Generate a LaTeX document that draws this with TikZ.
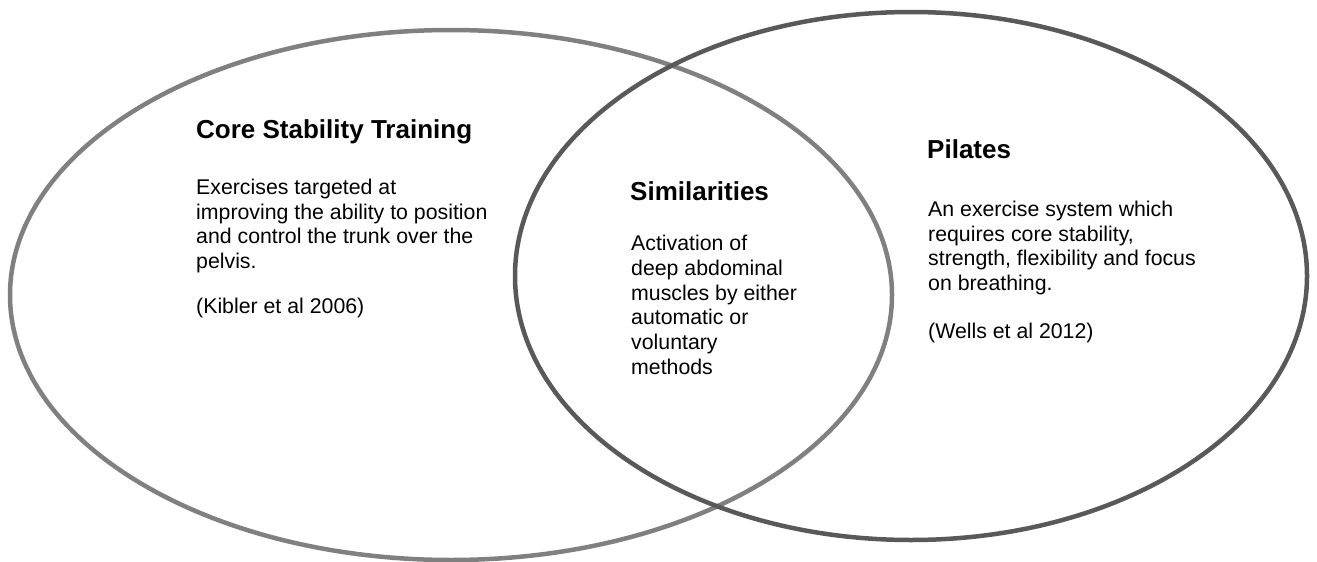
\documentclass[tikz,border=0pt]{standalone}
\usepackage{fontspec}
\setmainfont{Liberation Sans}
\usetikzlibrary{positioning}
\definecolor{ringlight}{HTML}{808080}
\definecolor{ringdark}{HTML}{595959}
\tikzset{
	ring/.style={line width=4.5pt},
	heading/.style={anchor=north west, inner sep=0pt, font=\fontsize{26}{30}\selectfont\bfseries},
	bodytext/.style={anchor=north west, inner sep=0pt, align=left, font=\fontsize{21.3}{24.7}\selectfont},
}

\begin{document}
\begin{tikzpicture}[x=1pt,y=-1pt]
	\useasboundingbox (0,0) rectangle (1317,562);
	% the two sets
	\draw[ring,ringlight] (451,295) ellipse [x radius=441, y radius=265];
	\draw[ring,ringdark] (911,276) ellipse [x radius=396, y radius=264];
	% left set
	\node[heading] (coretitle) at (196,119.5) {Core Stability Training};
	\node[bodytext] (coretext) at (196,178.7) {Exercises targeted at\\improving the ability to position\\and control the trunk over the\\pelvis.};
	\node[bodytext] (coreref) at (196,297.5) {(Kibler et al 2006)};
	% overlap
	\node[heading] (simtitle) at (630,181.3) {Similarities};
	\node[bodytext] (simtext) at (631,235.2) {Activation of\\deep abdominal\\muscles by either\\automatic or\\voluntary\\methods};
	% right set
	\node[heading] (piltitle) at (927,139.3) {Pilates};
	\node[bodytext] (piltext) at (928,200.7) {An exercise system which\\requires core stability,\\strength, flexibility and focus\\on breathing.};
	\node[bodytext] (pilref) at (928,322.5) {(Wells et al 2012)};
\end{tikzpicture}
\end{document}
